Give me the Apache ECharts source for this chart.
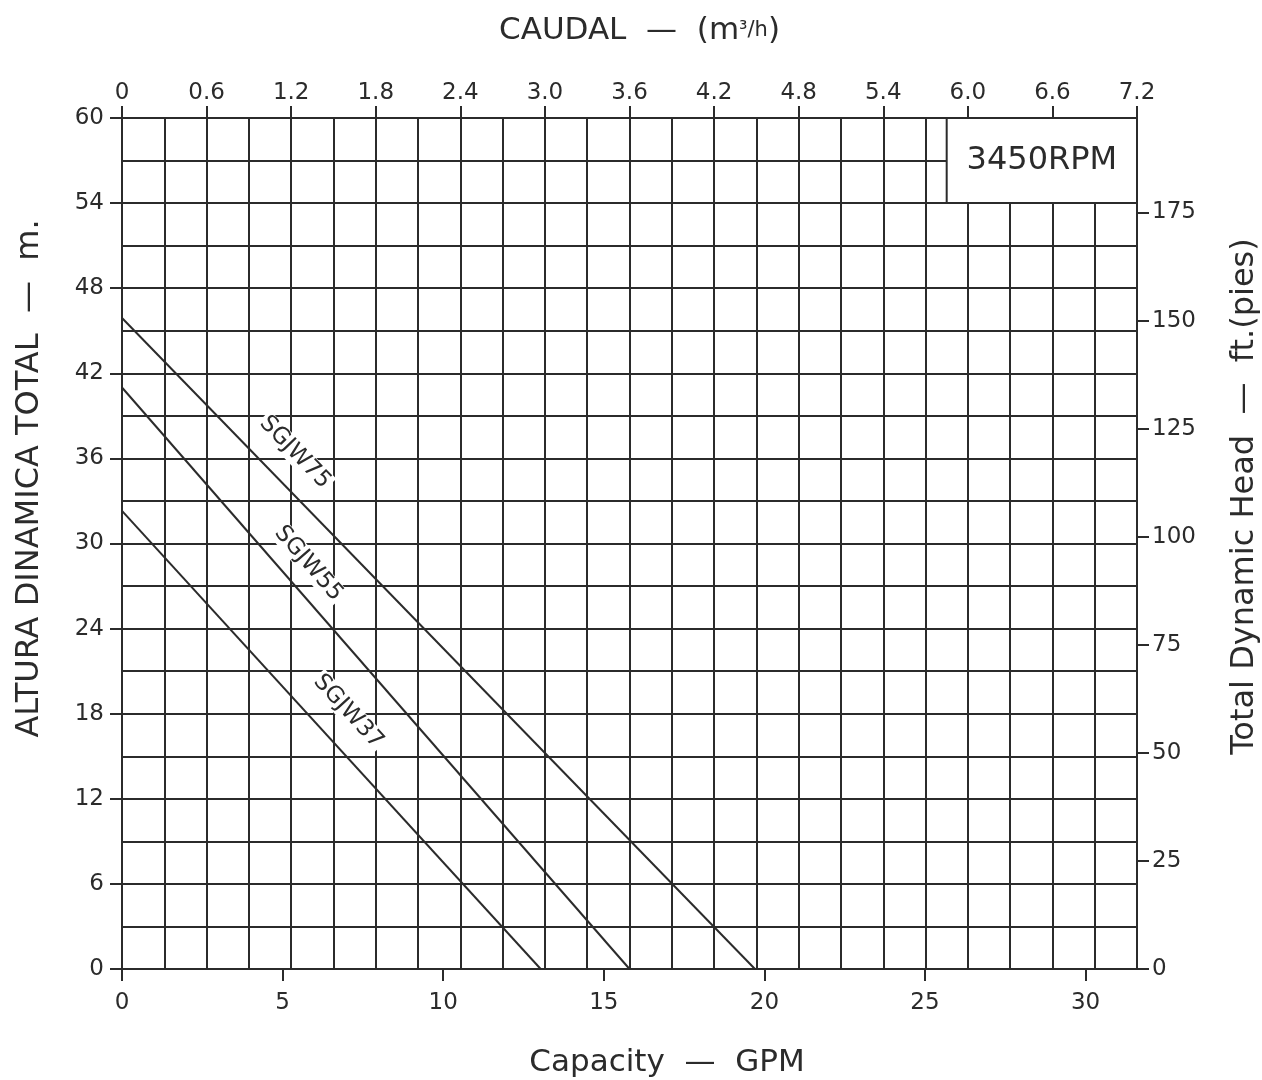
<!DOCTYPE html>
<html>
<head>
<meta charset="utf-8">
<script src="https://cdn.jsdelivr.net/npm/echarts@6/dist/echarts.min.js"></script>
<style>
html,body{margin:0;padding:0;background:#fff;overflow:hidden;}
#chart{width:1262px;height:1080px;}
</style>
</head>
<body>
<div id="chart"></div>
<script>
// ---- data ----
const models = ['SGJW75', 'SGJW55', 'SGJW37'];
const shutoffHead = [45.9, 41.0, 32.3];     // m at zero flow
const maxFlow = [4.49, 3.6, 2.97];          // m3/h at zero head
const flowTicks = ['0','0.6','1.2','1.8','2.4','3.0','3.6','4.2','4.8','5.4','6.0','6.6','7.2'];
const gpmTicks = ['0','5','10','15','20','25','30'];
const headMTicks = ['0','6','12','18','24','30','36','42','48','54','60'];
const headFtTicks = ['0','25','50','75','100','125','150','175'];
const rpmText = '3450RPM';

// ---- layout / style ----
const INK = '#2b2b2b';
const FONT = 'DejaVu Sans';
const FLOW_MAX = 7.2, HEAD_MAX = 60;
const GPM_MAX = 31.6, FT_MAX = HEAD_MAX * 3.28084;
const labelAnchors = [[1.227, 36.42, -46], [1.323, 28.59, -49], [1.605, 18.14, -47.6]];

const tickLabel = {color: INK, fontFamily: FONT, fontSize: 23};
const nameStyle = {color: INK, fontFamily: FONT, fontSize: 31};
const lineSt = {color: INK, width: 2};

const series = models.map((m, i) => ({
  name: m,
  type: 'line',
  xAxisIndex: 0,
  yAxisIndex: 0,
  data: [[0, shutoffHead[i]], [maxFlow[i], 0]],
  symbol: 'none',
  lineStyle: {color: INK, width: 2},
  z: 3,
  markPoint: {
    symbol: 'circle', symbolSize: 1,
    itemStyle: {color: 'rgba(0,0,0,0)'},
    data: [{coord: [labelAnchors[i][0], labelAnchors[i][1]]}],
    label: {
      show: true, position: 'inside', formatter: m,
      rotate: labelAnchors[i][2],
      color: INK, fontFamily: FONT, fontSize: 23,
      backgroundColor: '#fff', padding: [0, 2]
    }
  }
}));
series[0].markArea = {
  silent: true,
  itemStyle: {color: '#fff', borderColor: INK, borderWidth: 2},
  label: {show: true, position: 'inside', formatter: rpmText, color: INK, fontFamily: FONT, fontSize: 32},
  data: [[{coord: [5.85, 54]}, {coord: [FLOW_MAX, HEAD_MAX]}]]
};

const chart = echarts.init(document.getElementById('chart'));
chart.setOption({
  animation: false,
  backgroundColor: '#fff',
  grid: {left: 122, right: 125, top: 118, bottom: 111, containLabel: false, outerBoundsMode: 'none'},
  xAxis: [{
    type: 'value', position: 'top', min: 0, max: FLOW_MAX, interval: 0.6,
    name: 'CAUDAL  —  (m{s|³/h})', nameLocation: 'middle', nameGap: 72,
    nameTextStyle: Object.assign({}, nameStyle, {padding: [0, 0, 0, 20], rich: {s: {fontFamily: FONT, fontSize: 21, color: INK}}}),
    axisLine: {show: true, onZero: false, lineStyle: lineSt},
    axisTick: {show: true, length: 12, lineStyle: lineSt},
    axisLabel: Object.assign({}, tickLabel, {margin: 13, formatter: (v) => flowTicks[Math.round(v / 0.6)] || ''}),
    splitLine: {show: true, lineStyle: lineSt},
    minorTick: {show: false, splitNumber: 2},
    minorSplitLine: {show: true, lineStyle: lineSt}
  }, {
    type: 'value', position: 'bottom', min: 0, max: GPM_MAX, interval: 5,
    name: 'Capacity  —  GPM', nameLocation: 'middle', nameGap: 78,
    nameTextStyle: Object.assign({}, nameStyle, {padding: [0, 0, 0, 75]}),
    axisLine: {show: true, onZero: false, lineStyle: lineSt},
    axisTick: {show: true, length: 12, lineStyle: lineSt},
    axisLabel: Object.assign({}, tickLabel, {margin: 23, showMaxLabel: false, formatter: (v) => gpmTicks[Math.round(v / 5)] || ''}),
    splitLine: {show: false}
  }],
  yAxis: [{
    type: 'value', position: 'left', min: 0, max: HEAD_MAX, interval: 6,
    name: 'ALTURA DINAMICA TOTAL  —  m.', nameLocation: 'middle', nameGap: 76,
    nameTextStyle: Object.assign({}, nameStyle, {fontSize: 32, padding: [0, 0, 0, 130]}),
    axisLine: {show: true, onZero: false, lineStyle: lineSt},
    axisTick: {show: true, length: 12, lineStyle: lineSt},
    axisLabel: Object.assign({}, tickLabel, {margin: 18, formatter: (v) => headMTicks[Math.round(v / 6)] || ''}),
    splitLine: {show: true, lineStyle: lineSt},
    minorTick: {show: false, splitNumber: 2},
    minorSplitLine: {show: true, lineStyle: lineSt}
  }, {
    type: 'value', position: 'right', min: 0, max: FT_MAX, interval: 25,
    name: 'Total Dynamic Head  —  ft.(pies)', nameLocation: 'middle', nameGap: 92, nameRotate: 90,
    nameTextStyle: Object.assign({}, nameStyle, {fontSize: 32, padding: [0, 0, 0, 94]}),
    axisLine: {show: true, onZero: false, lineStyle: lineSt},
    axisTick: {show: true, length: 12, lineStyle: lineSt},
    axisLabel: Object.assign({}, tickLabel, {margin: 15, showMaxLabel: false, formatter: (v) => headFtTicks[Math.round(v / 25)] || ''}),
    splitLine: {show: false}
  }],
  series: series
});
</script>
</body>
</html>
